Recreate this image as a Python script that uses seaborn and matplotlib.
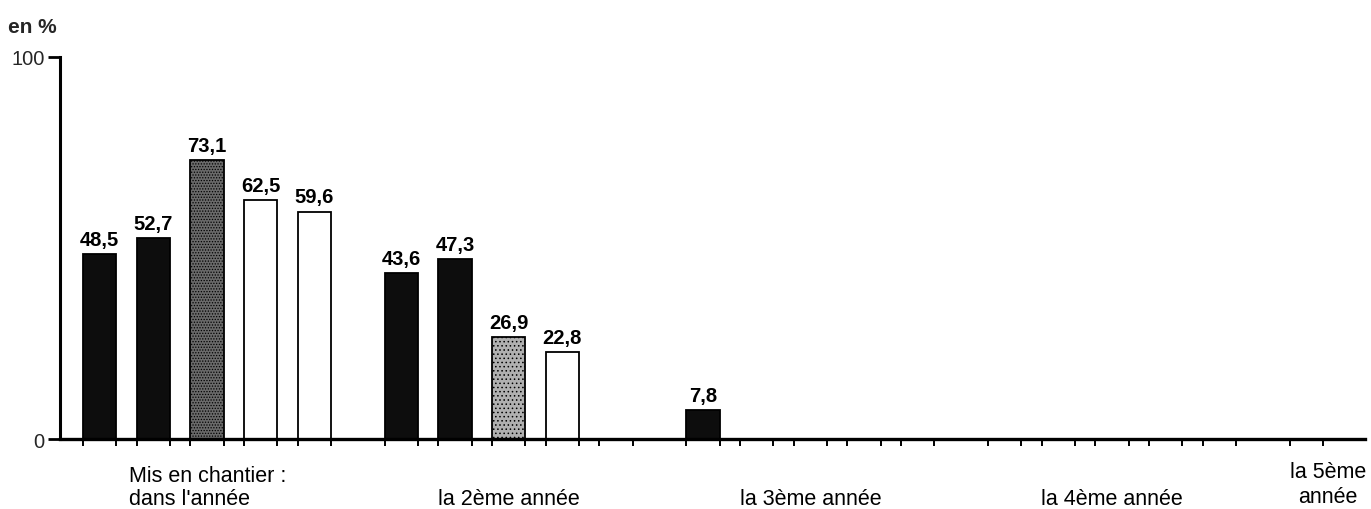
import numpy as np
import pandas as pd
import matplotlib
matplotlib.use("Agg")
import matplotlib.pyplot as plt
import seaborn as sns

# ---------------- data ----------------
categories = ["Mis en chantier :\ndans l'année", "la 2ème année",
              "la 3ème année", "la 4ème année", "la 5ème\nannée"]
serie_1 = [48.5, 43.6, 7.8, None, None]      # black
serie_2 = [52.7, 47.3, None, None, None]     # black
serie_3 = [73.1, 26.9, None, None, None]     # stippled grey
serie_4 = [62.5, 22.8, None, None, None]     # white
serie_5 = [59.6, None, None, None, None]     # white
y_ticks = [0, 100]
y_unit = "en %"

series = [serie_1, serie_2, serie_3, serie_4, serie_5]

# ---------------- layout ----------------
SLOTS = 5
GROUP_STEP = 5.62
BAR_W = 0.62

sns.set_theme(style="white")
plt.rcParams["font.family"] = ["Liberation Sans", "DejaVu Sans"]
plt.rcParams["hatch.linewidth"] = 0.6

rows = []
for s, vals in enumerate(series):
    for g, v in enumerate(vals):
        if v is not None:
            rows.append({"pos": g * GROUP_STEP + s, "val": v, "serie": s, "group": g})
df = pd.DataFrame(rows).sort_values("pos").reset_index(drop=True)

fig = plt.figure(figsize=(13.71, 5.10), dpi=100)
ax = fig.add_axes([0.04376, 0.1363, 0.95186, 0.75])

sns.barplot(data=df, x="pos", y="val", native_scale=True, width=BAR_W,
            color="black", errorbar=None, ax=ax)

grey_shades = {0: "#6a6a6a", 1: "#b0b0b0"}
grey_hatch = {0: "......", 1: "...."}
for patch in ax.patches:
    cx = patch.get_x() + patch.get_width() / 2
    row = df.iloc[(df["pos"] - cx).abs().argmin()]
    s, g = int(row["serie"]), int(row["group"])
    if s in (0, 1):
        fc = "#0d0d0d"
    elif s == 2:
        fc = grey_shades.get(g, "#8a8a8a")
        patch.set_hatch(grey_hatch.get(g, "...."))
    else:
        fc = "white"
    patch.set_facecolor(fc)
    patch.set_edgecolor("black")
    patch.set_linewidth(1.3)
    ax.annotate(f"{row['val']:.1f}".replace(".", ","), (cx, row["val"]),
                xytext=(0, 6.5), textcoords="offset points",
                ha="center", va="baseline", fontsize=14.5, fontweight="bold",
                color="black")

# axes limits
ax.set_xlim(-0.736, 23.57)
ax.set_ylim(0, 100)

# x ticks at bar edges of every slot
xt = []
for g in range(len(categories)):
    n = SLOTS if g < len(categories) - 1 else 1
    for s in range(n):
        c = g * GROUP_STEP + s
        xt += [c - BAR_W / 2, c + BAR_W / 2]
ax.set_xticks(xt)
ax.set_xticklabels([])
ax.set_xlabel("")
ax.set_ylabel("")
ax.tick_params(axis="x", direction="out", length=5, width=1.4, color="black",
               bottom=True)
ax.set_yticks(y_ticks)
ax.set_yticklabels([str(t) for t in y_ticks], fontsize=14.5)
ax.tick_params(axis="y", direction="out", length=9, width=2, color="black",
               left=True, pad=2)

for side in ("top", "right"):
    ax.spines[side].set_visible(False)
ax.spines["left"].set_linewidth(2.2)
ax.spines["bottom"].set_linewidth(2.4)
ax.spines["left"].set_color("black")
ax.spines["bottom"].set_color("black")
ax.grid(False)

# category labels below the axis
trans = ax.get_xaxis_transform()
def yfrac(px):
    return (440.5 - px) / 382.5

for g, lab in enumerate(categories):
    lines = lab.split("\n")
    if g == 0:
        x, ha = 0.549, "left"
    elif g == len(categories) - 1:
        x, ha = 22.88, "center"
    else:
        x, ha = g * GROUP_STEP + 2, "center"
    base = [505] if len(lines) == 1 else ([482, 505] if g == 0 else [478, 503])
    for line, b in zip(lines, base):
        ax.text(x, yfrac(b), line, transform=trans, ha=ha, va="baseline",
                fontsize=15.5, color="black", clip_on=False)

fig.text(8 / 1371, 1 - 33 / 510, y_unit, fontsize=15, fontweight="bold",
         ha="left", va="baseline")

fig.savefig("out.png", dpi=100, facecolor="white")
